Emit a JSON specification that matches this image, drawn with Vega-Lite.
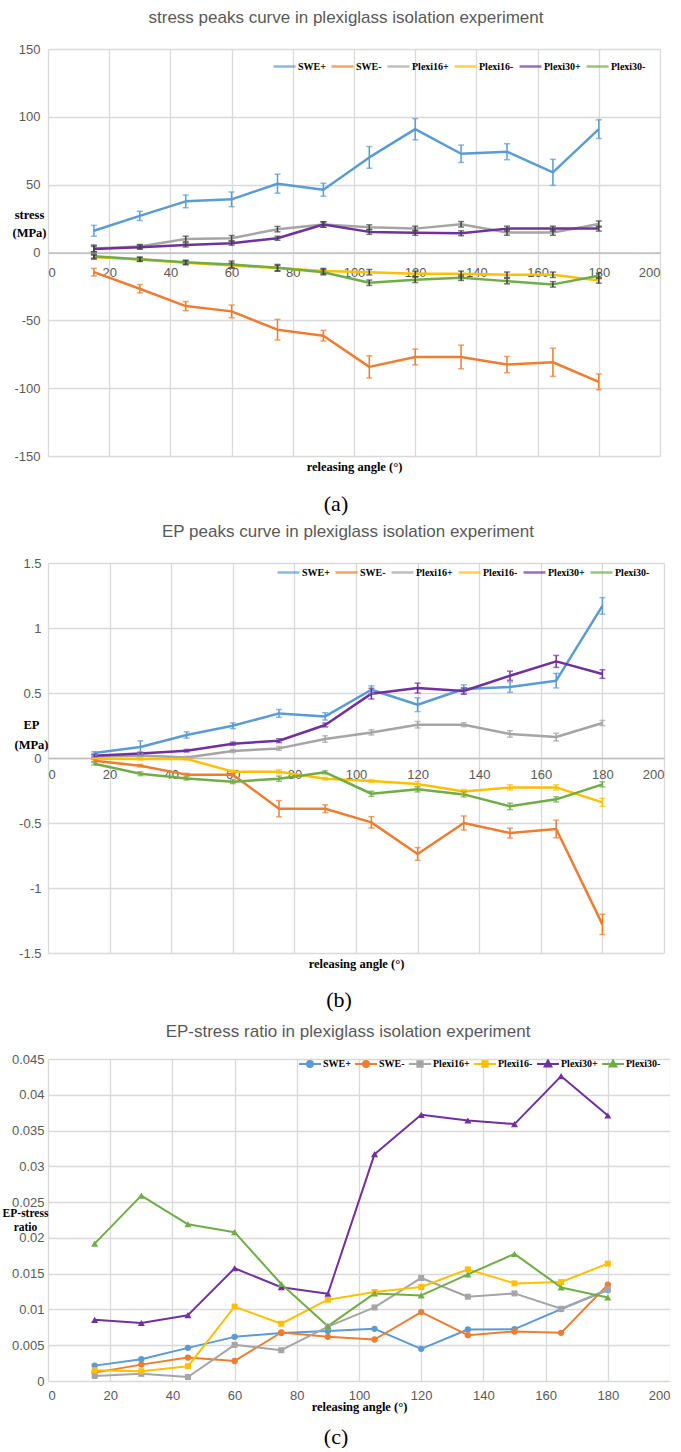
{
  "$schema": "https://vega.github.io/schema/vega-lite/v6.json",
  "background": "white",
  "padding": {"left": 2, "top": 9, "right": 0, "bottom": 0},
  "spacing": 8,
  "datasets": {
    "stress": [
      {"angle": 15, "series": "SWE+", "value": 16, "err": 4},
      {"angle": 30, "series": "SWE+", "value": 27, "err": 3.4},
      {"angle": 45, "series": "SWE+", "value": 37.7, "err": 4.7},
      {"angle": 60, "series": "SWE+", "value": 39.2, "err": 5.4},
      {"angle": 75, "series": "SWE+", "value": 50.7, "err": 7},
      {"angle": 90, "series": "SWE+", "value": 46.3, "err": 4.8},
      {"angle": 105, "series": "SWE+", "value": 70.1, "err": 8},
      {"angle": 120, "series": "SWE+", "value": 90.9, "err": 7.8},
      {"angle": 135, "series": "SWE+", "value": 72.8, "err": 6.4},
      {"angle": 150, "series": "SWE+", "value": 74.3, "err": 5.9},
      {"angle": 165, "series": "SWE+", "value": 59.1, "err": 9.6},
      {"angle": 180, "series": "SWE+", "value": 90.9, "err": 6.9},
      {"angle": 15, "series": "SWE-", "value": -14.5, "err": 2.8},
      {"angle": 30, "series": "SWE-", "value": -26.7, "err": 3.1},
      {"angle": 45, "series": "SWE-", "value": -39.5, "err": 3.4},
      {"angle": 60, "series": "SWE-", "value": -43.4, "err": 4.7},
      {"angle": 75, "series": "SWE-", "value": -56.9, "err": 7.6},
      {"angle": 90, "series": "SWE-", "value": -61.3, "err": 3.9},
      {"angle": 105, "series": "SWE-", "value": -84.3, "err": 8.2},
      {"angle": 120, "series": "SWE-", "value": -77, "err": 5.8},
      {"angle": 135, "series": "SWE-", "value": -77, "err": 8.7},
      {"angle": 150, "series": "SWE-", "value": -82.6, "err": 6},
      {"angle": 165, "series": "SWE-", "value": -80.9, "err": 10.4},
      {"angle": 180, "series": "SWE-", "value": -95.3, "err": 5.8},
      {"angle": 15, "series": "Plexi16+", "value": 3, "err": 2.5},
      {"angle": 30, "series": "Plexi16+", "value": 4.4, "err": 1.5},
      {"angle": 45, "series": "Plexi16+", "value": 10, "err": 2},
      {"angle": 60, "series": "Plexi16+", "value": 10.5, "err": 2},
      {"angle": 75, "series": "Plexi16+", "value": 17.2, "err": 2},
      {"angle": 90, "series": "Plexi16+", "value": 20.6, "err": 2},
      {"angle": 105, "series": "Plexi16+", "value": 18.6, "err": 1.8},
      {"angle": 120, "series": "Plexi16+", "value": 17.6, "err": 1.8},
      {"angle": 135, "series": "Plexi16+", "value": 20.8, "err": 2},
      {"angle": 150, "series": "Plexi16+", "value": 14.7, "err": 2},
      {"angle": 165, "series": "Plexi16+", "value": 14.7, "err": 2},
      {"angle": 180, "series": "Plexi16+", "value": 21, "err": 2.2},
      {"angle": 15, "series": "Plexi16-", "value": -3.4, "err": 1.5},
      {"angle": 30, "series": "Plexi16-", "value": -5.1, "err": 1.5},
      {"angle": 45, "series": "Plexi16-", "value": -7.6, "err": 1.5},
      {"angle": 60, "series": "Plexi16-", "value": -9.6, "err": 1.8},
      {"angle": 75, "series": "Plexi16-", "value": -11.5, "err": 2},
      {"angle": 90, "series": "Plexi16-", "value": -13.7, "err": 2},
      {"angle": 105, "series": "Plexi16-", "value": -14.5, "err": 2},
      {"angle": 120, "series": "Plexi16-", "value": -15.7, "err": 2},
      {"angle": 135, "series": "Plexi16-", "value": -15.7, "err": 2},
      {"angle": 150, "series": "Plexi16-", "value": -16.4, "err": 2},
      {"angle": 165, "series": "Plexi16-", "value": -16.4, "err": 2},
      {"angle": 180, "series": "Plexi16-", "value": -20.6, "err": 2},
      {"angle": 15, "series": "Plexi30+", "value": 2.5, "err": 2},
      {"angle": 30, "series": "Plexi30+", "value": 3.9, "err": 1.5},
      {"angle": 45, "series": "Plexi30+", "value": 5.6, "err": 1.5},
      {"angle": 60, "series": "Plexi30+", "value": 6.9, "err": 1.5},
      {"angle": 75, "series": "Plexi30+", "value": 10.5, "err": 1.5},
      {"angle": 90, "series": "Plexi30+", "value": 20.6, "err": 2},
      {"angle": 105, "series": "Plexi30+", "value": 15.2, "err": 1.8},
      {"angle": 120, "series": "Plexi30+", "value": 14.5, "err": 1.8},
      {"angle": 135, "series": "Plexi30+", "value": 14.2, "err": 1.8},
      {"angle": 150, "series": "Plexi30+", "value": 17.6, "err": 1.8},
      {"angle": 165, "series": "Plexi30+", "value": 17.6, "err": 1.8},
      {"angle": 180, "series": "Plexi30+", "value": 17.6, "err": 1.8},
      {"angle": 15, "series": "Plexi30-", "value": -2.7, "err": 1.5},
      {"angle": 30, "series": "Plexi30-", "value": -4.9, "err": 1.5},
      {"angle": 45, "series": "Plexi30-", "value": -7.1, "err": 1.5},
      {"angle": 60, "series": "Plexi30-", "value": -8.8, "err": 2.5},
      {"angle": 75, "series": "Plexi30-", "value": -11.3, "err": 2.5},
      {"angle": 90, "series": "Plexi30-", "value": -14.5, "err": 2},
      {"angle": 105, "series": "Plexi30-", "value": -22.3, "err": 2},
      {"angle": 120, "series": "Plexi30-", "value": -20.1, "err": 2},
      {"angle": 135, "series": "Plexi30-", "value": -18.6, "err": 2},
      {"angle": 150, "series": "Plexi30-", "value": -21.1, "err": 2},
      {"angle": 165, "series": "Plexi30-", "value": -23.5, "err": 2},
      {"angle": 180, "series": "Plexi30-", "value": -17.2, "err": 2}
    ],
    "ep": [
      {"angle": 15, "series": "SWE+", "value": 0.038, "err": 0.01},
      {"angle": 30, "series": "SWE+", "value": 0.085, "err": 0.047},
      {"angle": 45, "series": "SWE+", "value": 0.177, "err": 0.024},
      {"angle": 60, "series": "SWE+", "value": 0.248, "err": 0.022},
      {"angle": 75, "series": "SWE+", "value": 0.343, "err": 0.03},
      {"angle": 90, "series": "SWE+", "value": 0.32, "err": 0.028},
      {"angle": 105, "series": "SWE+", "value": 0.525, "err": 0.03},
      {"angle": 120, "series": "SWE+", "value": 0.41, "err": 0.053},
      {"angle": 135, "series": "SWE+", "value": 0.531, "err": 0.032},
      {"angle": 150, "series": "SWE+", "value": 0.546, "err": 0.041},
      {"angle": 165, "series": "SWE+", "value": 0.595, "err": 0.056},
      {"angle": 180, "series": "SWE+", "value": 1.17, "err": 0.064},
      {"angle": 15, "series": "SWE-", "value": -0.021, "err": 0.008},
      {"angle": 30, "series": "SWE-", "value": -0.059, "err": 0.01},
      {"angle": 45, "series": "SWE-", "value": -0.128, "err": 0.01},
      {"angle": 60, "series": "SWE-", "value": -0.128, "err": 0.01},
      {"angle": 75, "series": "SWE-", "value": -0.39, "err": 0.062},
      {"angle": 90, "series": "SWE-", "value": -0.39, "err": 0.03},
      {"angle": 105, "series": "SWE-", "value": -0.495, "err": 0.044},
      {"angle": 120, "series": "SWE-", "value": -0.738, "err": 0.049},
      {"angle": 135, "series": "SWE-", "value": -0.5, "err": 0.054},
      {"angle": 150, "series": "SWE-", "value": -0.577, "err": 0.038},
      {"angle": 165, "series": "SWE-", "value": -0.546, "err": 0.068},
      {"angle": 180, "series": "SWE-", "value": -1.28, "err": 0.078},
      {"angle": 15, "series": "Plexi16+", "value": 0.012, "err": 0.008},
      {"angle": 30, "series": "Plexi16+", "value": 0.02, "err": 0.01},
      {"angle": 45, "series": "Plexi16+", "value": 0.003, "err": 0.01},
      {"angle": 60, "series": "Plexi16+", "value": 0.054, "err": 0.012},
      {"angle": 75, "series": "Plexi16+", "value": 0.074, "err": 0.015},
      {"angle": 90, "series": "Plexi16+", "value": 0.146, "err": 0.025},
      {"angle": 105, "series": "Plexi16+", "value": 0.197, "err": 0.02},
      {"angle": 120, "series": "Plexi16+", "value": 0.256, "err": 0.025},
      {"angle": 135, "series": "Plexi16+", "value": 0.256, "err": 0.015},
      {"angle": 150, "series": "Plexi16+", "value": 0.185, "err": 0.025},
      {"angle": 165, "series": "Plexi16+", "value": 0.161, "err": 0.03},
      {"angle": 180, "series": "Plexi16+", "value": 0.269, "err": 0.02},
      {"angle": 15, "series": "Plexi16-", "value": -0.005, "err": 0.005},
      {"angle": 30, "series": "Plexi16-", "value": -0.007, "err": 0.008},
      {"angle": 45, "series": "Plexi16-", "value": -0.007, "err": 0.008},
      {"angle": 60, "series": "Plexi16-", "value": -0.105, "err": 0.01},
      {"angle": 75, "series": "Plexi16-", "value": -0.105, "err": 0.015},
      {"angle": 90, "series": "Plexi16-", "value": -0.159, "err": 0.01},
      {"angle": 105, "series": "Plexi16-", "value": -0.177, "err": 0.01},
      {"angle": 120, "series": "Plexi16-", "value": -0.2, "err": 0.02},
      {"angle": 135, "series": "Plexi16-", "value": -0.257, "err": 0.015},
      {"angle": 150, "series": "Plexi16-", "value": -0.226, "err": 0.02},
      {"angle": 165, "series": "Plexi16-", "value": -0.226, "err": 0.02},
      {"angle": 180, "series": "Plexi16-", "value": -0.341, "err": 0.031},
      {"angle": 15, "series": "Plexi30+", "value": 0.018, "err": 0.01},
      {"angle": 30, "series": "Plexi30+", "value": 0.035, "err": 0.01},
      {"angle": 45, "series": "Plexi30+", "value": 0.056, "err": 0.01},
      {"angle": 60, "series": "Plexi30+", "value": 0.11, "err": 0.012},
      {"angle": 75, "series": "Plexi30+", "value": 0.133, "err": 0.015},
      {"angle": 90, "series": "Plexi30+", "value": 0.254, "err": 0.015},
      {"angle": 105, "series": "Plexi30+", "value": 0.495, "err": 0.041},
      {"angle": 120, "series": "Plexi30+", "value": 0.538, "err": 0.038},
      {"angle": 135, "series": "Plexi30+", "value": 0.515, "err": 0.025},
      {"angle": 150, "series": "Plexi30+", "value": 0.633, "err": 0.035},
      {"angle": 165, "series": "Plexi30+", "value": 0.743, "err": 0.046},
      {"angle": 180, "series": "Plexi30+", "value": 0.646, "err": 0.033},
      {"angle": 15, "series": "Plexi30-", "value": -0.044, "err": 0.01},
      {"angle": 30, "series": "Plexi30-", "value": -0.121, "err": 0.015},
      {"angle": 45, "series": "Plexi30-", "value": -0.157, "err": 0.012},
      {"angle": 60, "series": "Plexi30-", "value": -0.182, "err": 0.015},
      {"angle": 75, "series": "Plexi30-", "value": -0.159, "err": 0.02},
      {"angle": 90, "series": "Plexi30-", "value": -0.11, "err": 0.012},
      {"angle": 105, "series": "Plexi30-", "value": -0.275, "err": 0.02},
      {"angle": 120, "series": "Plexi30-", "value": -0.241, "err": 0.02},
      {"angle": 135, "series": "Plexi30-", "value": -0.28, "err": 0.02},
      {"angle": 150, "series": "Plexi30-", "value": -0.372, "err": 0.025},
      {"angle": 165, "series": "Plexi30-", "value": -0.318, "err": 0.02},
      {"angle": 180, "series": "Plexi30-", "value": -0.203, "err": 0.02}
    ],
    "ratio": [
      {"angle": 15, "series": "SWE+", "value": 0.00215},
      {"angle": 30, "series": "SWE+", "value": 0.00304},
      {"angle": 45, "series": "SWE+", "value": 0.00463},
      {"angle": 60, "series": "SWE+", "value": 0.00617},
      {"angle": 75, "series": "SWE+", "value": 0.0067},
      {"angle": 90, "series": "SWE+", "value": 0.007},
      {"angle": 105, "series": "SWE+", "value": 0.00729},
      {"angle": 120, "series": "SWE+", "value": 0.00449},
      {"angle": 135, "series": "SWE+", "value": 0.0072},
      {"angle": 150, "series": "SWE+", "value": 0.00724},
      {"angle": 165, "series": "SWE+", "value": 0.01005},
      {"angle": 180, "series": "SWE+", "value": 0.0127},
      {"angle": 15, "series": "SWE-", "value": 0.00117},
      {"angle": 30, "series": "SWE-", "value": 0.00229},
      {"angle": 45, "series": "SWE-", "value": 0.00327},
      {"angle": 60, "series": "SWE-", "value": 0.0028},
      {"angle": 75, "series": "SWE-", "value": 0.00678},
      {"angle": 90, "series": "SWE-", "value": 0.00617},
      {"angle": 105, "series": "SWE-", "value": 0.0058},
      {"angle": 120, "series": "SWE-", "value": 0.00963},
      {"angle": 135, "series": "SWE-", "value": 0.0064},
      {"angle": 150, "series": "SWE-", "value": 0.00692},
      {"angle": 165, "series": "SWE-", "value": 0.00673},
      {"angle": 180, "series": "SWE-", "value": 0.01346},
      {"angle": 15, "series": "Plexi16+", "value": 0.0007},
      {"angle": 30, "series": "Plexi16+", "value": 0.001},
      {"angle": 45, "series": "Plexi16+", "value": 0.00056},
      {"angle": 60, "series": "Plexi16+", "value": 0.00505},
      {"angle": 75, "series": "Plexi16+", "value": 0.0043},
      {"angle": 90, "series": "Plexi16+", "value": 0.0076},
      {"angle": 105, "series": "Plexi16+", "value": 0.01028},
      {"angle": 120, "series": "Plexi16+", "value": 0.0144},
      {"angle": 135, "series": "Plexi16+", "value": 0.01178},
      {"angle": 150, "series": "Plexi16+", "value": 0.01224},
      {"angle": 165, "series": "Plexi16+", "value": 0.0101},
      {"angle": 180, "series": "Plexi16+", "value": 0.0128},
      {"angle": 15, "series": "Plexi16-", "value": 0.0015},
      {"angle": 30, "series": "Plexi16-", "value": 0.00136},
      {"angle": 45, "series": "Plexi16-", "value": 0.00206},
      {"angle": 60, "series": "Plexi16-", "value": 0.0104},
      {"angle": 75, "series": "Plexi16-", "value": 0.008},
      {"angle": 90, "series": "Plexi16-", "value": 0.01136},
      {"angle": 105, "series": "Plexi16-", "value": 0.01243},
      {"angle": 120, "series": "Plexi16-", "value": 0.01313},
      {"angle": 135, "series": "Plexi16-", "value": 0.0156},
      {"angle": 150, "series": "Plexi16-", "value": 0.01364},
      {"angle": 165, "series": "Plexi16-", "value": 0.01383},
      {"angle": 180, "series": "Plexi16-", "value": 0.0164},
      {"angle": 15, "series": "Plexi30+", "value": 0.00855},
      {"angle": 30, "series": "Plexi30+", "value": 0.0081},
      {"angle": 45, "series": "Plexi30+", "value": 0.0092},
      {"angle": 60, "series": "Plexi30+", "value": 0.01575},
      {"angle": 75, "series": "Plexi30+", "value": 0.0131},
      {"angle": 90, "series": "Plexi30+", "value": 0.0122},
      {"angle": 105, "series": "Plexi30+", "value": 0.0317},
      {"angle": 120, "series": "Plexi30+", "value": 0.0372},
      {"angle": 135, "series": "Plexi30+", "value": 0.0364},
      {"angle": 150, "series": "Plexi30+", "value": 0.0359},
      {"angle": 165, "series": "Plexi30+", "value": 0.0426},
      {"angle": 180, "series": "Plexi30+", "value": 0.0371},
      {"angle": 15, "series": "Plexi30-", "value": 0.0192},
      {"angle": 30, "series": "Plexi30-", "value": 0.0259},
      {"angle": 45, "series": "Plexi30-", "value": 0.0219},
      {"angle": 60, "series": "Plexi30-", "value": 0.0208},
      {"angle": 75, "series": "Plexi30-", "value": 0.01355},
      {"angle": 90, "series": "Plexi30-", "value": 0.00766},
      {"angle": 105, "series": "Plexi30-", "value": 0.01224},
      {"angle": 120, "series": "Plexi30-", "value": 0.01196},
      {"angle": 135, "series": "Plexi30-", "value": 0.0149},
      {"angle": 150, "series": "Plexi30-", "value": 0.01776},
      {"angle": 165, "series": "Plexi30-", "value": 0.01308},
      {"angle": 180, "series": "Plexi30-", "value": 0.01168}
    ]
  },
  "vconcat": [
    {
      "title": {"text": "(a)", "orient": "bottom", "anchor": "middle", "font": "Liberation Serif", "fontSize": 22, "fontWeight": "normal", "color": "#000000", "offset": 21},
      "vconcat": [
        {
          "width": 612,
          "height": 407,
          "title": {"text": "stress peaks curve in plexiglass isolation experiment", "offset": 16, "dx": -8},
          "data": {"name": "stress"},
          "encoding": {
            "x": {"field": "angle", "type": "quantitative", "scale": {"domain": [0, 200], "nice": false},
              "axis": {"values": [0, 20, 40, 60, 80, 100, 120, 140, 160, 180, 200], "labelExpr": "'' + datum.value", "offset": -203.5, "domain": true, "domainColor": "#bfbfbf", "domainWidth": 1.6, "labelPadding": 13.5, "title": "releasing angle (°)", "titleY": 218, "titleBaseline": "alphabetic"}},
            "y": {"field": "value", "type": "quantitative", "scale": {"domain": [-150, 150], "nice": false},
              "axis": {"values": [-150, -100, -50, 0, 50, 100, 150], "labelExpr": "'' + datum.value", "labelPadding": 8, "title": ["stress", "(MPa)"], "titleAngle": 0, "titleAlign": "center", "titleBaseline": "alphabetic", "titleX": -19, "titleY": 169, "titleLineHeight": 18}}
          },
          "layer": [
            {
              "mark": {"type": "line", "strokeWidth": 2.5, "strokeJoin": "round"},
              "encoding": {
                "color": {"field": "series", "type": "nominal",
                  "scale": {"domain": ["SWE+", "SWE-", "Plexi16+", "Plexi16-", "Plexi30+", "Plexi30-"], "range": ["#5B9BD5", "#ED7D31", "#A5A5A5", "#FFC000", "#7030A0", "#70AD47"]},
                  "legend": {"orient": "none", "legendX": 224, "legendY": 5, "direction": "horizontal", "gridAlign": "none", "title": null, "symbolType": "stroke", "symbolSize": 484, "symbolStrokeWidth": 2.5, "labelFont": "Liberation Serif", "labelFontWeight": "bold", "labelFontSize": 10, "labelColor": "#000000", "labelOffset": 1, "columnPadding": 0}}
              }
            },
            {
              "transform": [{"filter": "datum.series === 'SWE+' || datum.series === 'SWE-'"}],
              "mark": {"type": "errorbar", "ticks": {"size": 6}, "thickness": 1.5},
              "encoding": {
                "yError": {"field": "err"},
                "color": {"field": "series", "type": "nominal"}
              }
            },
            {
              "transform": [{"filter": "datum.series !== 'SWE+' && datum.series !== 'SWE-'"}],
              "mark": {"type": "errorbar", "ticks": {"size": 6}, "thickness": 1.5, "color": "#404040"},
              "encoding": {
                "yError": {"field": "err"}
              }
            }
          ]
        }
      ]
    },
    {
      "spacing": 12,
      "vconcat": [
        {
          "title": {"text": "(b)", "orient": "bottom", "anchor": "middle", "font": "Liberation Serif", "fontSize": 22, "fontWeight": "normal", "color": "#000000", "offset": 20},
          "vconcat": [
            {
              "width": 616,
              "height": 390,
              "title": {"text": "EP peaks curve in plexiglass isolation experiment", "offset": 16, "dx": -8},
              "data": {"name": "ep"},
              "encoding": {
                "x": {"field": "angle", "type": "quantitative", "scale": {"domain": [0, 200], "nice": false},
                  "axis": {"values": [0, 20, 40, 60, 80, 100, 120, 140, 160, 180, 200], "labelExpr": "'' + datum.value", "offset": -195, "domain": true, "domainColor": "#bfbfbf", "domainWidth": 1.6, "labelPadding": 10, "title": "releasing angle (°)", "titleY": 209, "titleBaseline": "alphabetic"}},
                "y": {"field": "value", "type": "quantitative", "scale": {"domain": [-1.5, 1.5], "nice": false},
                  "axis": {"values": [-1.5, -1, -0.5, 0, 0.5, 1, 1.5], "labelExpr": "'' + datum.value", "labelPadding": 7, "title": ["EP", "(MPa)"], "titleAngle": 0, "titleAlign": "center", "titleBaseline": "alphabetic", "titleX": -17, "titleY": 165, "titleLineHeight": 20}}
              },
              "layer": [
                {
                  "mark": {"type": "line", "strokeWidth": 2.5, "strokeJoin": "round"},
                  "encoding": {
                    "color": {"field": "series", "type": "nominal",
                      "scale": {"domain": ["SWE+", "SWE-", "Plexi16+", "Plexi16-", "Plexi30+", "Plexi30-"], "range": ["#5B9BD5", "#ED7D31", "#A5A5A5", "#FFC000", "#7030A0", "#70AD47"]},
                      "legend": {"orient": "none", "legendX": 228, "legendY": -3, "direction": "horizontal", "gridAlign": "none", "title": null, "symbolType": "stroke", "symbolSize": 484, "symbolStrokeWidth": 2.5, "labelFont": "Liberation Serif", "labelFontWeight": "bold", "labelFontSize": 10, "labelColor": "#000000", "labelOffset": 1, "columnPadding": 0}}
                  }
                },
                {
                  "mark": {"type": "errorbar", "ticks": {"size": 6}, "thickness": 1.5},
                  "encoding": {
                    "yError": {"field": "err"},
                    "color": {"field": "series", "type": "nominal"}
                  }
                }
              ]
            }
          ]
        },
        {
          "title": {"text": "(c)", "orient": "bottom", "anchor": "middle", "font": "Liberation Serif", "fontSize": 22, "fontWeight": "normal", "color": "#000000", "offset": 14},
          "vconcat": [
            {
              "width": 622,
              "height": 322,
              "title": {"text": "EP-stress ratio in plexiglass isolation experiment", "offset": 12, "dx": -11},
              "data": {"name": "ratio"},
              "encoding": {
                "x": {"field": "angle", "type": "quantitative", "scale": {"domain": [0, 200], "nice": false},
                  "axis": {"values": [0, 20, 40, 60, 80, 100, 120, 140, 160, 180, 200], "labelExpr": "'' + datum.value", "labelPadding": 8, "title": "releasing angle (°)", "titleY": 29.5, "titleBaseline": "alphabetic"}},
                "y": {"field": "value", "type": "quantitative", "scale": {"domain": [0, 0.045], "nice": false},
                  "axis": {"values": [0, 0.005, 0.01, 0.015, 0.02, 0.025, 0.03, 0.035, 0.04, 0.045], "labelExpr": "'' + datum.value", "labelPadding": 4, "title": ["EP-stress", "ratio"], "titleFontSize": 11.5, "titleAngle": 0, "titleAlign": "center", "titleBaseline": "alphabetic", "titleX": -23, "titleY": 157, "titleLineHeight": 14}},
                "color": {"field": "series", "type": "nominal",
                  "scale": {"domain": ["SWE+", "SWE-", "Plexi16+", "Plexi16-", "Plexi30+", "Plexi30-"], "range": ["#5B9BD5", "#ED7D31", "#A5A5A5", "#FFC000", "#7030A0", "#70AD47"]},
                  "legend": {"orient": "none", "legendX": 250, "legendY": -7, "direction": "horizontal", "gridAlign": "none", "title": null, "symbolSize": 484, "symbolStrokeWidth": 2, "labelFont": "Liberation Serif", "labelFontWeight": "bold", "labelFontSize": 10, "labelColor": "#000000", "labelOffset": 1, "columnPadding": 0}}
              },
              "layer": [
                {
                  "mark": {"type": "line", "strokeWidth": 2, "strokeJoin": "round"}
                },
                {
                  "transform": [{"filter": "datum.series === 'SWE+' || datum.series === 'SWE-'"}],
                  "mark": {"type": "point", "shape": "circle", "filled": true, "opacity": 1, "size": 40}
                },
                {
                  "transform": [{"filter": "datum.series === 'Plexi16+' || datum.series === 'Plexi16-'"}],
                  "mark": {"type": "point", "shape": "square", "filled": true, "opacity": 1, "size": 36}
                },
                {
                  "transform": [{"filter": "datum.series === 'Plexi30+' || datum.series === 'Plexi30-'"}],
                  "mark": {"type": "point", "shape": "triangle-up", "filled": true, "opacity": 1, "size": 50}
                },
                {
                  "transform": [{"filter": "false"}],
                  "mark": {"type": "point", "filled": true, "opacity": 1},
                  "encoding": {
                    "shape": {"field": "series", "type": "nominal",
                      "scale": {"domain": ["SWE+", "SWE-", "Plexi16+", "Plexi16-", "Plexi30+", "Plexi30-"],
                        "range": [
                          "M-1,0H1M-0.27,0A0.27,0.27,0,1,1,0.27,0A0.27,0.27,0,1,1,-0.27,0Z",
                          "M-1,0H1M-0.27,0A0.27,0.27,0,1,1,0.27,0A0.27,0.27,0,1,1,-0.27,0Z",
                          "M-1,0H1M-0.24,-0.24H0.24V0.24H-0.24Z",
                          "M-1,0H1M-0.24,-0.24H0.24V0.24H-0.24Z",
                          "M-1,0H1M0,-0.32L0.3,0.22H-0.3Z",
                          "M-1,0H1M0,-0.32L0.3,0.22H-0.3Z"
                        ]},
                      "legend": {"orient": "none", "legendX": 250, "legendY": -7, "direction": "horizontal", "gridAlign": "none", "title": null, "symbolSize": 484, "symbolStrokeWidth": 2, "labelFont": "Liberation Serif", "labelFontWeight": "bold", "labelFontSize": 10, "labelColor": "#000000", "labelOffset": 1, "columnPadding": 0}}
                  }
                }
              ]
            }
          ]
        }
      ],
      "resolve": {
        "scale": {"x": "independent", "y": "independent", "color": "independent", "shape": "independent"},
        "legend": {"color": "independent", "shape": "independent"},
        "axis": {"x": "independent", "y": "independent"}
      }
    }
  ],
  "resolve": {
    "scale": {"x": "independent", "y": "independent", "color": "independent", "shape": "independent"},
    "legend": {"color": "independent", "shape": "independent"},
    "axis": {"x": "independent", "y": "independent"}
  },
  "config": {
    "view": {"stroke": null},
    "font": "Liberation Sans",
    "title": {"font": "Liberation Sans", "fontSize": 17, "fontWeight": "normal", "color": "#595959"},
    "axis": {
      "grid": true, "gridColor": "#d9d9d9", "gridWidth": 1.3,
      "domain": false, "ticks": false, "tickSize": 0,
      "labelColor": "#595959", "labelFont": "Liberation Sans", "labelFontSize": 13,
      "titleFont": "Liberation Serif", "titleFontWeight": "bold", "titleFontSize": 12.5, "titleColor": "#000000"
    }
  }
}
